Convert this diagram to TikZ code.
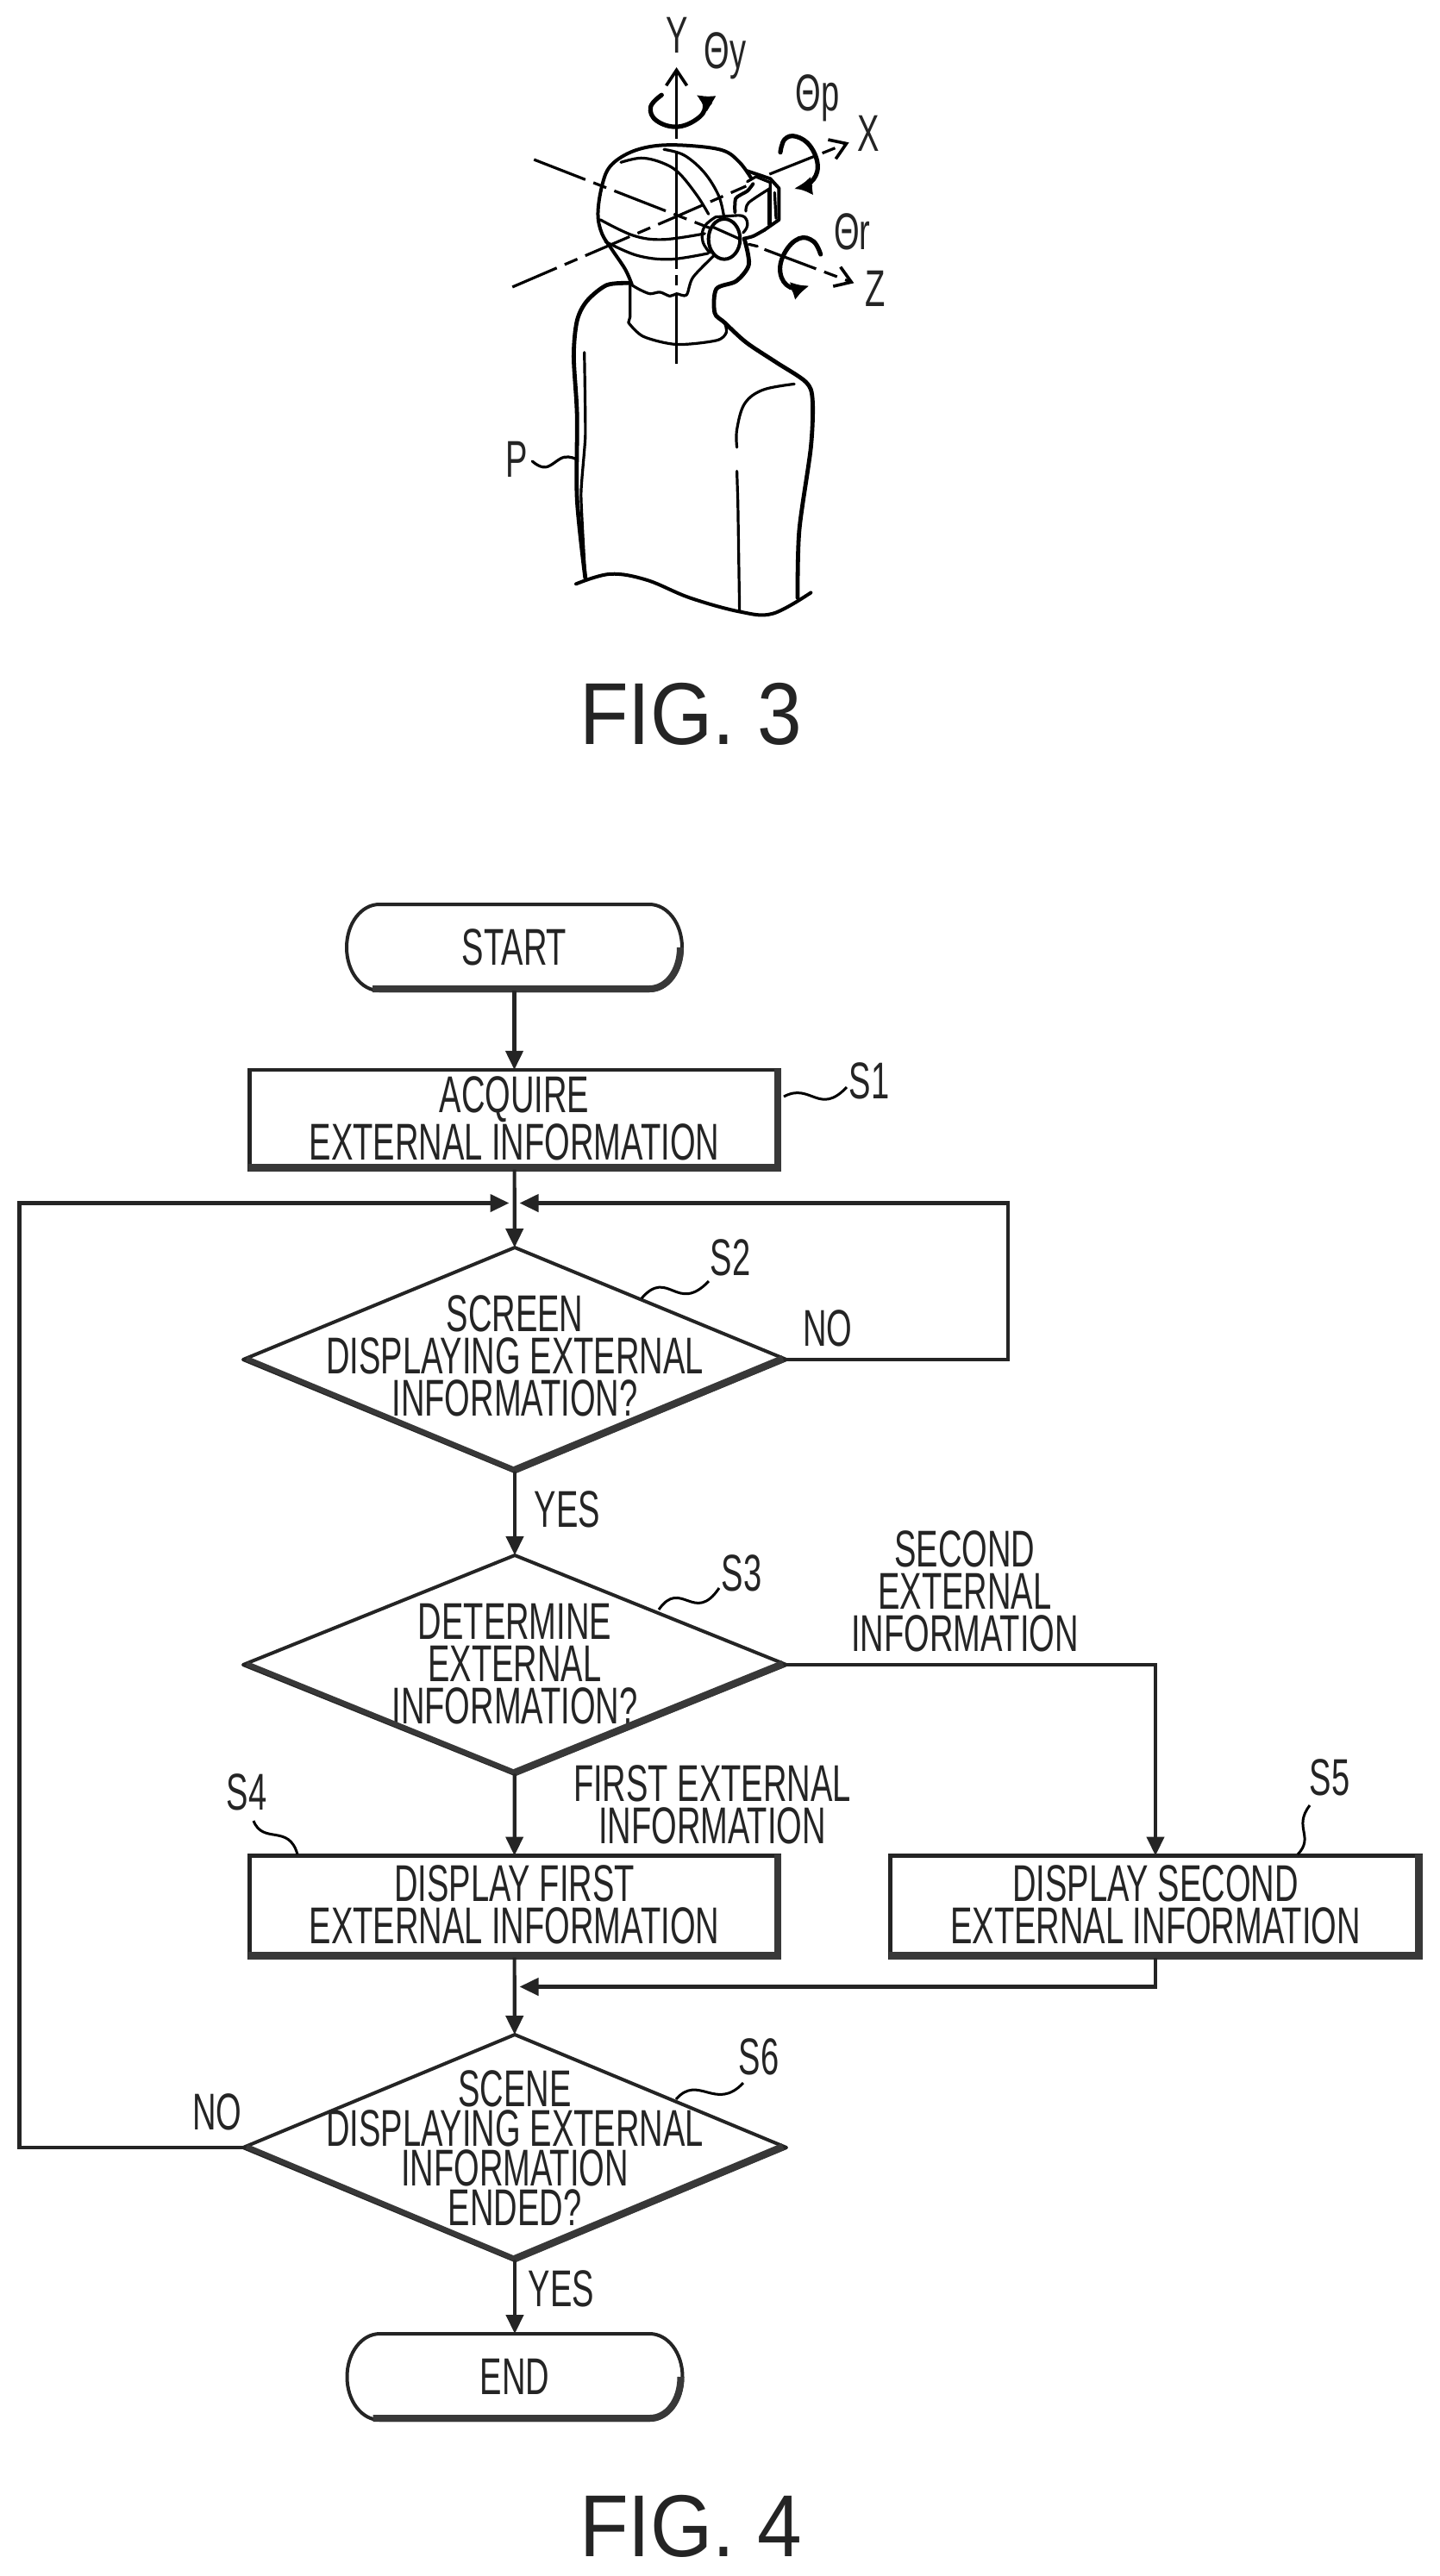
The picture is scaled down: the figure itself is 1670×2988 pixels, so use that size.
\documentclass[tikz,border=0pt]{standalone}
\usepackage{fontspec}
\setmainfont[FakeStretch=0.635]{Liberation Sans}
\newfontfamily\figfont[FakeStretch=0.91]{Liberation Sans}
\usetikzlibrary{shapes.geometric,arrows.meta,calc}
\definecolor{inkline}{gray}{0.14}
\definecolor{inkheavy}{gray}{0.22}
\newcommand{\ctrtext}[2][0pt]{\raisebox{#1}{\vbox to 0pt{\vss\hbox to 0pt{\hss\vbox{\halign{\hfil##\hfil\cr #2\crcr}}\hss}\vss}}}
\tikzset{
  txt/.style={font=\fontsize{30}{24.5}\selectfont,align=center,inner sep=0pt,outer sep=0pt,text=inkline},
  figlabel/.style={font=\figfont\fontsize{51}{51}\selectfont,inner sep=0pt,text=inkline},
  boxnode/.style={txt,draw=inkline,line width=2.2pt,rectangle,minimum width=307.2pt,minimum height=59pt},
  decision/.style={txt,draw=inkline,line width=2pt,diamond,minimum width=315pt,line join=round},
  terminal/.style={txt,rectangle,minimum width=194.5pt,minimum height=50pt},
  outline/.style={draw=inkline,line width=2pt},
  heavy/.style={draw=inkheavy,line width=4.2pt},
  heavylow/.style={draw=inkheavy,line width=3pt},
  flow/.style={draw=inkline,line width=2.1pt,-{Triangle[length=11pt,width=10pt]}},
  tie/.style={draw=black,line width=1.5pt},
  body/.style={draw=black,line width=2pt,line cap=round,line join=round},
  thinbody/.style={draw=black,line width=1.6pt,line cap=round,line join=round},
  axis/.style={draw=black,line width=1.6pt},
  axishead/.style={-{Straight Barb[length=9pt,width=12pt,line width=1.8pt]}},
  spin/.style={draw=black,line width=2.6pt,line cap=round,-{Latex[length=10pt,width=11pt]}}
}
\newcommand{\heavyrect}[1]{\draw[heavy] ($(#1.south west)+(-1.2,-2)$) -- ($(#1.south east)+(-2,-2)$) -- ($(#1.north east)+(-2,-1.2)$);}
\newcommand{\heavydiamond}[1]{\draw[heavylow] ($(#1.west)+(4,-1)$) -- ($(#1.south)+(0,-2)$);\draw[heavy] ($(#1.south)+(0,-2)$) -- ($(#1.east)+(-4,-1)$);}
\newcommand{\stadium}[1]{%
  \draw[outline] ($(#1.north west)+(38,0)$) -- ($(#1.north east)+(-38,0)$) .. controls ($(#1.north east)+(-17,0)$) and ($(#1.east)+(0,-28)$) .. (#1.east) .. controls ($(#1.east)+(0,28)$) and ($(#1.south east)+(-17,0)$) .. ($(#1.south east)+(-38,0)$) -- ($(#1.south west)+(38,0)$) .. controls ($(#1.south west)+(17,0)$) and ($(#1.west)+(0,28)$) .. (#1.west) .. controls ($(#1.west)+(0,-28)$) and ($(#1.north west)+(17,0)$) .. cycle;
  \draw[heavy,line width=4pt] ($(#1.south west)+(30,-2)$) -- ($(#1.south east)+(-38,-2)$) .. controls ($(#1.south east)+(-18,-2)$) and ($(#1.east)+(-2,28)$) .. ($(#1.east)+(-2,0)$);}
\begin{document}
\begin{tikzpicture}[x=0.5pt,y=-0.5pt]
\useasboundingbox (0,0) rectangle (1670,2988);
% ---------- FIG. 3 ----------
\begin{scope}[shift={(500,0)},xscale=0.3846,yscale=0.4592]
% axes
\draw[axis,axishead] (740,350) -- (740,170);
\draw[axis] (740,380) -- (740,620);
\draw[axis] (740,620) -- (740,680);
\draw[axis] (740,695) -- (740,720);
\draw[axis] (740,740) -- (740,918);
\draw[axis,dash pattern=on 32pt off 5pt on 8pt off 5pt] (310,403) -- (745,545) -- (930,605);
\draw[axis,dash pattern=on 32pt off 5pt on 8pt off 5pt,axishead] (1005,630) -- (1275,715);
\draw[axis,dash pattern=on 28pt off 5pt on 8pt off 5pt] (245,725) -- (745,545) -- (950,470);
\draw[axis,dash pattern=on 28pt off 5pt on 8pt off 5pt,axishead] (1020,440) -- (1260,360);
% head
\draw[body] plot[smooth,tension=0.6] coordinates {(605,718) (585,680) (545,630) (515,590) (503,540) (515,470) (540,420) (600,385) (680,368) (780,368) (880,380) (930,410) (965,450)};
\draw[thinbody] plot[smooth,tension=0.6] coordinates {(510,555) (610,595) (700,605) (825,590)};
\draw[thinbody] plot[smooth,tension=0.6] coordinates {(525,610) (620,645) (720,655) (835,640)};
% jaw
\draw[thinbody] plot[smooth,tension=0.5] coordinates {(860,640) (790,700) (770,745) (740,742) (720,748) (690,738) (660,742) (630,732) (605,720)};
% neck and torso
\draw[body,line width=2.4pt] plot[smooth,tension=0.5] coordinates {(945,605) (958,668) (920,710) (860,730) (855,790) (885,815) (950,865) (1040,915) (1130,965) (1150,1010) (1145,1130) (1110,1340) (1105,1510)};
\draw[body,line width=2.4pt] plot[smooth,tension=0.5] coordinates {(600,715) (530,720) (470,760) (440,810) (430,900) (440,1050) (440,1260) (465,1460)};
\draw[thinbody] (600,720) -- (600,800) -- (595,815);
\draw[thinbody] plot[smooth,tension=0.5] coordinates {(595,815) (640,850) (740,870) (860,860) (890,840) (885,815)};
\draw[thinbody] plot[smooth,tension=0.3] coordinates {(462,890) (465,1100) (452,1250) (465,1460)};
\draw[body] plot[smooth,tension=0.6] coordinates {(437,1475) (540,1450) (650,1465) (780,1510) (930,1545) (1030,1550) (1145,1497)};
\draw[thinbody] plot[smooth,tension=0.6] coordinates {(1095,970) (1000,985) (945,1020) (922,1085) (922,1130)};
\draw[thinbody] (922,1190) -- (925,1270) -- (930,1545);
% rotation arrows
\draw[spin] plot[smooth,tension=0.7] coordinates {(695,240) (662,270) (680,305) (745,320) (810,295) (825,262) (800,240)};
% P lead line
\draw[thinbody] plot[smooth,tension=0.7] coordinates {(305,1165) (345,1180) (400,1155) (438,1160)};
% labels
\node[txt] (lY) at (742,90) {Y};
\node[txt] (lTy) at (887,140) {Θy};
\node[txt] (lTp) at (1165,248) {Θp};
\node[txt] (lX) at (1320,337) {X};
\node[txt] (lTr) at (1270,585) {Θr};
\node[txt] (lZ) at (1340,730) {Z};
\node[txt] (lP) at (257,1160) {P};
\end{scope}
% head detail, headset and rotation arrows
\begin{scope}[shift={(720,120)},xscale=0.3333,yscale=0.3333]
\draw[thinbody] plot[smooth,tension=0.6] coordinates {(150,160) (220,180) (290,240) (340,320) (358,390)};
\draw[thinbody] plot[smooth,tension=0.6] coordinates {(0,205) (70,190) (140,205) (200,240) (265,320) (305,385)};
\draw[thinbody] plot[smooth,tension=0.7] coordinates {(330,395) (290,430) (285,480) (310,520)};
\draw[thinbody] (330,395) -- (400,390);
\draw[body,fill=white] (360,472) ellipse (55 and 70);
\draw[thinbody] (320,430) -- (410,470);
\draw[thinbody] plot[smooth,tension=0.8] coordinates {(400,390) (430,395) (440,425) (425,450)};
\draw[body] plot[smooth,tension=0.4] coordinates {(397,378) (400,330) (440,305) (460,280)};
\draw[body] (440,235) -- (520,262) -- (550,295) -- (550,405) -- (500,440);
\draw[body] plot[smooth,tension=0.5] coordinates {(500,440) (460,462) (428,470)};
\draw[thinbody] (440,272) -- (470,255) -- (520,275) -- (520,300);
\draw[thinbody] plot[smooth,tension=0.5] coordinates {(435,375) (445,345) (520,295)};
\draw[body,line width=2.2pt] (517,300) -- (517,420);
\draw[thinbody] (535,310) -- (540,400);
\draw[thinbody] (445,490) -- (475,497);
\draw[spin] plot[smooth,tension=0.7] coordinates {(555,170) (570,125) (610,115) (660,150) (685,220) (660,275) (605,295)};
\draw[spin] plot[smooth,tension=0.7] coordinates {(695,525) (670,480) (620,470) (570,520) (555,590) (590,640) (655,635)};
\end{scope}
\node[figlabel] (fig3) at (801,828) {FIG. 3};
% ---------- FIG. 4 ----------
\node[terminal] (start) at (596.5,1099) {START};
\node[boxnode,minimum height=57.8pt] (s1) at (596.5,1298.7) {\ctrtext[1.7pt]{ACQUIRE\cr EXTERNAL INFORMATION}};
\node[decision,minimum height=130pt] (s2) at (597,1577) {\ctrtext[3.8pt]{SCREEN\cr DISPLAYING EXTERNAL\cr INFORMATION?}};
\node[decision,minimum height=127pt] (s3) at (597,1931) {\ctrtext[1pt]{DETERMINE\cr EXTERNAL\cr INFORMATION?}};
\node[boxnode] (s4) at (596.5,2211.5) {\ctrtext[1.7pt]{DISPLAY FIRST\cr EXTERNAL INFORMATION}};
\node[boxnode,minimum width=307.5pt] (s5) at (1340,2211.5) {\ctrtext[1.7pt]{DISPLAY SECOND\cr EXTERNAL INFORMATION}};
\node[decision,font=\fontsize{30}{23}\selectfont,minimum height=131pt] (s6) at (597,2491) {\ctrtext[-1pt]{SCENE\cr DISPLAYING EXTERNAL\cr INFORMATION\cr ENDED?}};
\node[terminal] (end) at (597,2757) {END};
\node[figlabel] (fig4) at (801,2930) {FIG. 4};
\stadium{start}
\stadium{end}
\heavyrect{s1}
\heavyrect{s4}
\heavyrect{s5}
\heavydiamond{s2}
\heavydiamond{s3}
\heavydiamond{s6}
% coordinates
\coordinate (merge) at (596.5,1395.5);
\coordinate (lc) at (22.5,1395.5);
\coordinate (rc) at (1169,1395.5);
\coordinate (join) at (596.5,2304.5);
% connectors
\draw[flow] (start) -- (s1);
\draw[flow] (s1) -- (s2);
\draw[flow] (s2) -- (s3);
\draw[flow] (s3) -- (s4);
\draw[flow] (s3.east) -| (s5.north);
\draw[flow] (s4) -- (s6);
\draw[flow,shorten >=3pt] (s5.south) |- (join);
\draw[flow] (s6) -- (end);
\draw[flow,shorten >=3pt] (s2.east) -| (rc) -- (merge);
\draw[flow,shorten >=3pt] (s6.west) -| (lc) -- (merge);
% edge labels
\node[txt] (no2) at (960,1541) {NO};
\node[txt] (yes2) at (658,1751) {YES};
\node[txt] (sec) at (1119,1846) {SECOND\\EXTERNAL\\INFORMATION};
\node[txt] (first) at (826,2093) {FIRST EXTERNAL\\INFORMATION};
\node[txt] (no6) at (252,2450) {NO};
\node[txt] (yes6) at (651,2655) {YES};
% step labels
\node[txt] (l1) at (1008,1254) {S1};
\node[txt] (l2) at (847,1459) {S2};
\node[txt] (l3) at (860,1825) {S3};
\node[txt] (l4) at (286,2079) {S4};
\node[txt] (l5) at (1542,2062) {S5};
\node[txt] (l6) at (880,2386) {S6};
\coordinate (t1a) at (909,1272); \coordinate (t1b) at (982,1261);
\coordinate (t2a) at (744,1506); \coordinate (t2b) at (822,1486);
\coordinate (t3a) at (764,1867); \coordinate (t3b) at (834,1842);
\coordinate (t4a) at (345,2151); \coordinate (t4b) at (294,2112);
\coordinate (t5a) at (1505,2151); \coordinate (t5b) at (1519,2094);
\coordinate (t6a) at (784,2435); \coordinate (t6b) at (862,2416);
\draw[tie] (t1a) .. controls (940,1255) and (950,1295) .. (t1b);
\draw[tie] (t2a) .. controls (775,1470) and (785,1525) .. (t2b);
\draw[tie] (t3a) .. controls (790,1830) and (805,1885) .. (t3b);
\draw[tie] (t4a) .. controls (335,2115) and (305,2140) .. (t4b);
\draw[tie] (t5a) .. controls (1525,2130) and (1499,2120) .. (t5b);
\draw[tie] (t6a) .. controls (810,2405) and (830,2450) .. (t6b);
\end{tikzpicture}
\end{document}
